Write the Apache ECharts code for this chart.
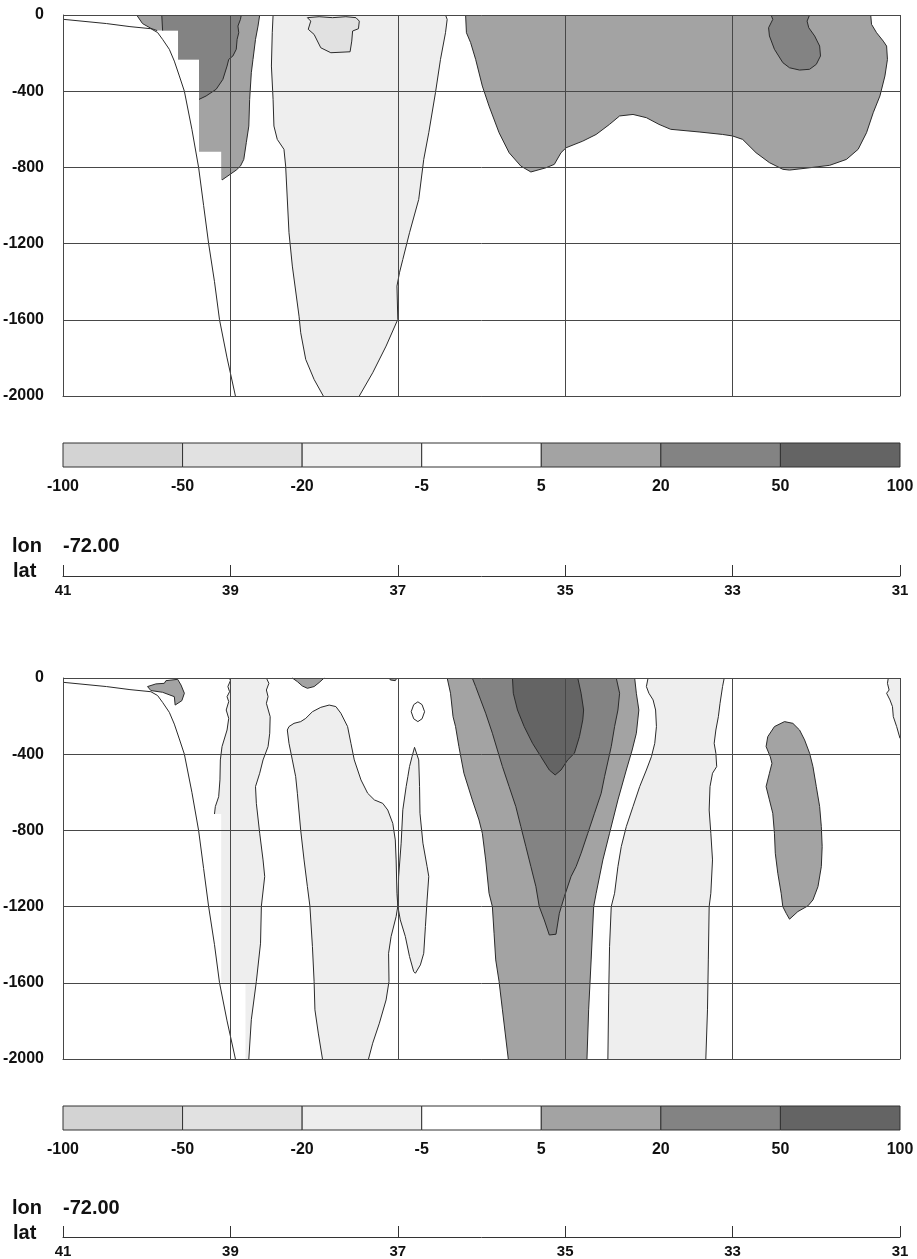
<!DOCTYPE html>
<html>
<head>
<meta charset="utf-8">
<script src="https://cdn.jsdelivr.net/npm/echarts@6/dist/echarts.min.js"></script>
<style>
html, body { margin: 0; padding: 0; background: #fff; }
#chart { width: 917px; height: 1259px; }
</style>
</head>
<body>
<div id="chart"></div>
<script>
// contour levels and their grey shades
var levelLabels = ['-100', '-50', '-20', '-5', '5', '20', '50', '100'];
var levelColors = ['#d3d3d3', '#e1e1e1', '#eeeeee', '#ffffff', '#a3a3a3', '#838383', '#646464'];

var latTicks = [41, 39, 37, 35, 33, 31];
var depthTicks = [0, -400, -800, -1200, -1600, -2000];

// continental slope (same section in both panels), [lat, depth]
var slopeLine = [[40.99, -23], [40.48, -45], [40.2, -61], [39.95, -72], [39.87, -92], [39.81, -128], [39.73, -180], [39.67, -242], [39.61, -320], [39.55, -400], [39.46, -600], [39.38, -800], [39.32, -1000], [39.26, -1200], [39.19, -1400], [39.13, -1600], [39.04, -1800], [38.94, -2000]];

// ---- upper panel contours ----
var topShelfWarm = [[40.12, 0], [38.65, 0], [38.67, -58], [38.70, -128], [38.73, -233], [38.75, -303], [38.77, -443], [38.78, -583], [38.81, -670], [38.84, -758], [38.88, -793], [38.93, -814], [39.10, -866], [39.11, -866], [39.11, -718], [39.375, -718], [39.375, -233], [39.625, -233], [39.625, -82], [39.875, -82], [39.95, -70], [40.05, -45]];
var topShelfCore = [[39.82, 0], [39.81, -82], [39.625, -82], [39.625, -233], [39.375, -233], [39.375, -443], [39.29, -425], [39.17, -390], [39.09, -338], [39.04, -268], [39.02, -233], [38.97, -215], [38.93, -180], [38.92, -128], [38.90, -93], [38.91, -58], [38.88, -23], [38.87, 0]];
var topCoolBand = [[38.49, 0], [38.50, -93], [38.51, -268], [38.49, -443], [38.48, -583], [38.44, -653], [38.36, -705], [38.34, -793], [38.30, -1143], [38.26, -1318], [38.18, -1581], [38.16, -1668], [38.10, -1808], [38.00, -1913], [37.89, -2000], [37.46, -2000], [37.30, -1878], [37.14, -1738], [37.00, -1598], [37.01, -1423], [36.98, -1353], [36.94, -1283], [36.86, -1143], [36.75, -968], [36.69, -758], [36.63, -618], [36.55, -408], [36.49, -233], [36.43, -93], [36.41, -23], [36.43, 0]];
var topCoolPatch = [[38.08, -14], [38.04, -32], [38.07, -75], [38.00, -102], [37.92, -172], [37.80, -198], [37.57, -193], [37.55, -137], [37.54, -84], [37.47, -72], [37.46, -32], [37.50, -14], [37.62, -9], [37.78, -14], [37.94, -9]];
var topOffshoreWarm = [[36.19, 0], [36.18, -93], [36.13, -145], [36.07, -233], [35.99, -373], [35.91, -478], [35.79, -618], [35.67, -723], [35.53, -793], [35.41, -824], [35.23, -802], [35.13, -784], [35.05, -723], [34.99, -697], [34.79, -662], [34.63, -627], [34.47, -574], [34.35, -530], [34.19, -522], [34.03, -539], [33.88, -574], [33.74, -600], [33.40, -614], [33.12, -627], [33.00, -635], [32.88, -653], [32.72, -723], [32.56, -775], [32.40, -810], [32.32, -814], [32.08, -802], [31.84, -789], [31.64, -758], [31.50, -705], [31.40, -618], [31.32, -513], [31.24, -425], [31.18, -320], [31.15, -233], [31.16, -163], [31.20, -137], [31.28, -93], [31.34, -49], [31.35, 0]];
var topOffshoreCore = [[32.54, 0], [32.52, -23], [32.57, -67], [32.56, -110], [32.50, -180], [32.40, -250], [32.32, -277], [32.20, -289], [32.08, -285], [32.00, -259], [31.95, -215], [31.96, -163], [32.02, -110], [32.09, -67], [32.11, -32], [32.08, 0]];

// ---- lower panel contours ----
var botShelfWarm = [[39.99, -45], [39.89, -31], [39.79, -28], [39.77, -14], [39.63, -7], [39.59, -37], [39.55, -80], [39.58, -119], [39.66, -142], [39.67, -98], [39.81, -75], [39.95, -66]];
var botSlopeCool = [[39.01, 0], [39.00, -14], [39.03, -45], [39.01, -72], [39.04, -98], [39.02, -124], [39.05, -168], [39.02, -212], [39.04, -273], [39.10, -360], [39.12, -430], [39.125, -535], [39.14, -623], [39.18, -675], [39.19, -714], [39.11, -714], [39.11, -1600], [38.82, -1600], [38.82, -2000], [38.78, -2000], [38.75, -1794], [38.69, -1593], [38.64, -1392], [38.63, -1198], [38.59, -1042], [38.61, -955], [38.65, -815], [38.69, -658], [38.70, -570], [38.65, -500], [38.61, -430], [38.55, -360], [38.53, -290], [38.525, -203], [38.57, -133], [38.55, -98], [38.57, -63], [38.54, -28], [38.57, 0]];
var botSurfWarmA = [[38.26, 0], [38.20, -19], [38.14, -42], [38.08, -54], [38.00, -45], [37.94, -24], [37.88, 0]];
var botSurfWarmB = [[37.10, 0], [37.09, -10], [37.03, -14], [37.01, 0]];
var botCoolTongue = [[38.32, -273], [38.30, -255], [38.24, -238], [38.16, -229], [38.10, -212], [38.02, -177], [37.92, -154], [37.82, -142], [37.74, -150], [37.68, -185], [37.60, -255], [37.56, -343], [37.52, -430], [37.44, -535], [37.36, -605], [37.28, -640], [37.18, -658], [37.12, -693], [37.06, -763], [37.03, -850], [37.02, -955], [37.01, -1130], [37.00, -1198], [37.02, -1252], [37.08, -1357], [37.11, -1445], [37.105, -1593], [37.14, -1690], [37.22, -1812], [37.30, -1917], [37.35, -2000], [37.90, -2000], [37.95, -1864], [37.99, -1742], [38.00, -1593], [38.02, -1410], [38.05, -1198], [38.08, -1095], [38.12, -955], [38.16, -800], [38.20, -605], [38.22, -518], [38.26, -430], [38.30, -343]];
var botCoolSliver = [[36.80, -364], [36.77, -404], [36.75, -430], [36.74, -570], [36.735, -710], [36.70, -867], [36.65, -990], [36.63, -1042], [36.65, -1165], [36.67, -1305], [36.69, -1445], [36.73, -1506], [36.79, -1550], [36.81, -1541], [36.86, -1462], [36.91, -1357], [36.97, -1270], [37.00, -1198], [36.99, -1042], [36.96, -867], [36.94, -692], [36.90, -570], [36.88, -518], [36.86, -465], [36.83, -413]];
var botEddyRing = [[36.76, -125], [36.71, -140], [36.68, -177], [36.71, -214], [36.76, -229], [36.81, -214], [36.84, -177], [36.81, -140]];
var botJetOuter = [[36.41, 0], [36.37, -80], [36.34, -203], [36.31, -255], [36.27, -360], [36.21, -500], [36.11, -640], [36.03, -745], [35.99, -815], [35.95, -955], [35.91, -1130], [35.87, -1200], [35.85, -1340], [35.83, -1480], [35.79, -1593], [35.75, -1742], [35.68, -2000], [34.74, -2000], [34.72, -1742], [34.69, -1480], [34.66, -1200], [34.63, -1130], [34.55, -955], [34.47, -815], [34.37, -640], [34.27, -483], [34.20, -378], [34.15, -290], [34.12, -168], [34.15, -80], [34.17, 0]];
var botJetMid = [[36.11, 0], [36.07, -45], [36.01, -115], [35.95, -185], [35.87, -290], [35.81, -378], [35.75, -465], [35.67, -570], [35.59, -675], [35.53, -780], [35.47, -885], [35.41, -990], [35.35, -1095], [35.31, -1200], [35.25, -1270], [35.19, -1349], [35.11, -1345], [35.07, -1235], [35.01, -1147], [34.93, -1042], [34.87, -990], [34.81, -920], [34.73, -815], [34.65, -710], [34.57, -605], [34.53, -518], [34.45, -360], [34.41, -255], [34.37, -168], [34.35, -80], [34.39, 0]];
var botJetCore = [[35.63, 0], [35.62, -80], [35.57, -168], [35.49, -255], [35.39, -343], [35.29, -413], [35.19, -483], [35.12, -509], [35.05, -483], [34.97, -430], [34.89, -395], [34.83, -308], [34.79, -220], [34.78, -168], [34.81, -80], [34.85, 0]];
var botCoolBand = [[34.01, 0], [34.03, -45], [34.00, -80], [33.95, -115], [33.92, -168], [33.91, -255], [33.93, -343], [33.97, -413], [34.03, -483], [34.11, -570], [34.19, -675], [34.27, -780], [34.33, -885], [34.37, -990], [34.41, -1130], [34.45, -1200], [34.47, -1410], [34.48, -1654], [34.49, -2000], [33.32, -2000], [33.30, -1742], [33.29, -1480], [33.28, -1200], [33.26, -1130], [33.24, -955], [33.26, -815], [33.28, -693], [33.27, -570], [33.24, -500], [33.19, -465], [33.20, -395], [33.22, -343], [33.20, -273], [33.17, -203], [33.15, -133], [33.12, -45], [33.10, 0]];
var botOffshoreWarm = [[32.38, -229], [32.28, -238], [32.20, -273], [32.14, -325], [32.08, -395], [32.04, -465], [32.00, -570], [31.96, -675], [31.94, -780], [31.93, -885], [31.94, -990], [31.98, -1095], [32.04, -1165], [32.10, -1196], [32.22, -1226], [32.32, -1266], [32.36, -1235], [32.40, -1200], [32.42, -1130], [32.46, -1025], [32.49, -920], [32.50, -815], [32.52, -710], [32.56, -640], [32.60, -570], [32.56, -500], [32.53, -448], [32.55, -413], [32.60, -360], [32.58, -308], [32.50, -255]];
var botEdgeCool = [[31.14, 0], [31.15, -28], [31.13, -63], [31.16, -80], [31.12, -115], [31.09, -150], [31.08, -203], [31.04, -255], [31.00, -317], [31.00, 0]];

// level index = position in levelColors
var topPolys = [
    { pts: topShelfWarm, level: 4 },
    { pts: topShelfCore, level: 5 },
    { pts: topCoolBand, level: 2 },
    { pts: topCoolPatch, level: 1 },
    { pts: topOffshoreWarm, level: 4 },
    { pts: topOffshoreCore, level: 5 }
];
var botPolys = [
    { pts: botShelfWarm, level: 4 },
    { pts: botSlopeCool, level: 2 },
    { pts: botSurfWarmA, level: 4 },
    { pts: botSurfWarmB, level: 4 },
    { pts: botCoolTongue, level: 2 },
    { pts: botCoolSliver, level: 2 },
    { pts: botEddyRing, level: 3 },
    { pts: botJetOuter, level: 4 },
    { pts: botJetMid, level: 5 },
    { pts: botJetCore, level: 6 },
    { pts: botCoolBand, level: 2 },
    { pts: botOffshoreWarm, level: 4 },
    { pts: botEdgeCool, level: 2 }
];

var FONT = '"Liberation Sans", Arial, Helvetica, sans-serif';
var INK = '#111';
var GRID_LINE = '#474747';

// fills each polygon, then strokes its contour edges; edges that run exactly
// along a lat or depth line are mask/frame edges and get no outline
function contourRenderer(polys) {
    return function (params, api) {
        var p = polys[params.dataIndex];
        var n = p.pts.length;
        var px = p.pts.map(function (d) { return api.coord(d); });
        var children = [{
            type: 'polygon',
            shape: { points: px },
            style: { fill: levelColors[p.level], stroke: null, lineWidth: 0 }
        }];
        var run = [];
        function flush() {
            if (run.length > 1) {
                children.push({
                    type: 'polyline',
                    shape: { points: run },
                    style: { fill: null, stroke: '#2a2a2a', lineWidth: 1 }
                });
            }
            run = [];
        }
        for (var i = 0; i < n; i++) {
            var a = p.pts[i], b = p.pts[(i + 1) % n];
            if (a[0] !== b[0] && a[1] !== b[1]) {
                if (!run.length) run.push(px[i]);
                run.push(px[(i + 1) % n]);
            } else {
                flush();
            }
        }
        flush();
        return { type: 'group', children: children };
    };
}

function colorbarRenderer(params, api) {
    var i = params.dataIndex;
    var p0 = api.coord([i, 1]);
    var p1 = api.coord([i + 1, 0]);
    return {
        type: 'rect',
        shape: { x: p0[0], y: p0[1], width: p1[0] - p0[0], height: p1[1] - p0[1] },
        style: { fill: levelColors[i], stroke: '#333', lineWidth: 1 }
    };
}

var latMin = Math.min.apply(null, latTicks);
var latMax = Math.max.apply(null, latTicks);
var depthMin = Math.min.apply(null, depthTicks);
var depthMax = Math.max.apply(null, depthTicks);

function panelX(g) {
    return {
        gridIndex: g, type: 'value', min: latMin, max: latMax, interval: 2, inverse: true, z: 5,
        axisLine: { show: true, onZero: false, lineStyle: { color: GRID_LINE, width: 1 } },
        axisTick: { show: false }, axisLabel: { show: false },
        splitLine: { show: true, lineStyle: { color: GRID_LINE, width: 1 } }
    };
}
function panelY(g) {
    return {
        gridIndex: g, type: 'value', min: depthMin, max: depthMax, interval: 400, z: 5,
        axisLine: { show: true, onZero: false, lineStyle: { color: GRID_LINE, width: 1 } },
        axisTick: { show: false },
        axisLabel: {
            margin: 19, color: INK, fontFamily: FONT, fontWeight: 'bold', fontSize: 16,
            formatter: function (v) { return String(v); }
        },
        splitLine: { show: true, lineStyle: { color: GRID_LINE, width: 1 } }
    };
}
function barX(g) {
    return {
        gridIndex: g, type: 'value', min: 0, max: levelColors.length, interval: 1,
        axisLine: { show: false }, axisTick: { show: false }, splitLine: { show: false },
        axisLabel: {
            margin: 12, color: INK, fontFamily: FONT, fontWeight: 'bold', fontSize: 16,
            formatter: function (v) { return levelLabels[v]; }
        }
    };
}
function latX(g) {
    return {
        gridIndex: g, type: 'value', min: latMin, max: latMax, interval: 2, inverse: true,
        axisLine: { show: true, onZero: false, lineStyle: { color: '#333', width: 1 } },
        axisTick: { show: true, inside: true, length: 11, lineStyle: { color: '#333', width: 1 } },
        splitLine: { show: false },
        axisLabel: { margin: 7, color: INK, fontFamily: FONT, fontWeight: 'bold', fontSize: 15 }
    };
}
function hiddenY(g) {
    return { gridIndex: g, type: 'value', min: 0, max: 1, show: false };
}

function panelSeries(polys, g) {
    return [{
        type: 'custom', xAxisIndex: g, yAxisIndex: g, z: 2, silent: true,
        renderItem: contourRenderer(polys),
        data: polys.map(function (p) { return p.pts[0]; })
    }, {
        type: 'line', xAxisIndex: g, yAxisIndex: g, z: 3, silent: true,
        showSymbol: false, data: slopeLine,
        lineStyle: { color: '#2a2a2a', width: 1 }
    }];
}
function barSeries(g) {
    return {
        type: 'custom', xAxisIndex: g, yAxisIndex: g, silent: true,
        renderItem: colorbarRenderer,
        data: levelColors.map(function (c, i) { return [i, 0]; })
    };
}

function labelText(x, y, text) {
    return { type: 'text', x: x, y: y, style: { text: text, font: 'bold 20px ' + FONT, fill: INK, verticalAlign: 'middle' } };
}

var chart = echarts.init(document.getElementById('chart'));
chart.setOption({
    animation: false,
    backgroundColor: '#fff',
    grid: [
        { left: 63, top: 15, width: 837, height: 381 },
        { left: 63, top: 443, width: 837, height: 24 },
        { left: 63, top: 565, width: 837, height: 11 },
        { left: 63, top: 678, width: 837, height: 381 },
        { left: 63, top: 1106, width: 837, height: 24 },
        { left: 63, top: 1227, width: 837, height: 11 }
    ],
    xAxis: [panelX(0), barX(1), latX(2), panelX(3), barX(4), latX(5)],
    yAxis: [panelY(0), hiddenY(1), hiddenY(2), panelY(3), hiddenY(4), hiddenY(5)],
    series: panelSeries(topPolys, 0)
        .concat([barSeries(1)])
        .concat(panelSeries(botPolys, 3))
        .concat([barSeries(4)]),
    graphic: [
        labelText(12, 546, 'lon'),
        labelText(63, 546, '-72.00'),
        labelText(13, 571, 'lat'),
        labelText(12, 1208, 'lon'),
        labelText(63, 1208, '-72.00'),
        labelText(13, 1233, 'lat')
    ]
});
</script>
</body>
</html>
